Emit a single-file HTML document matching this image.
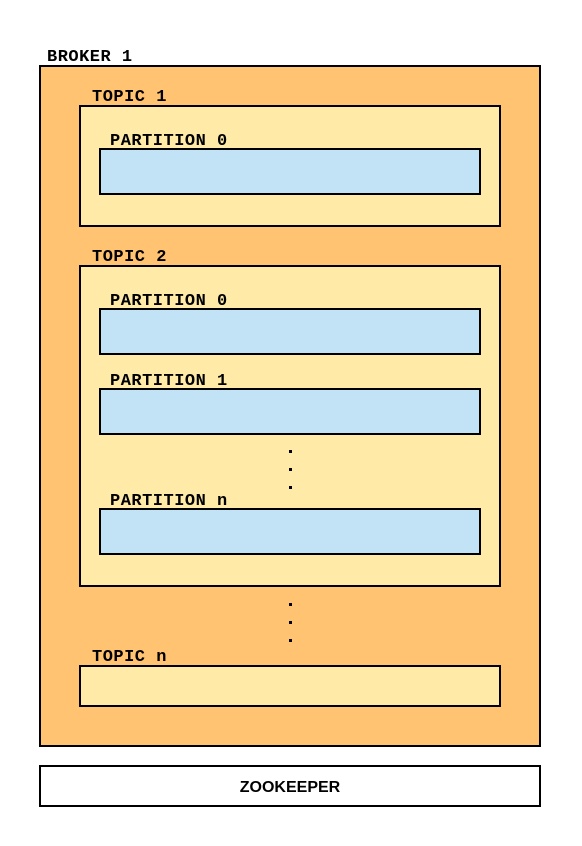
<!DOCTYPE html>
<html><head><meta charset="utf-8"><style>
html,body{margin:0;padding:0;background:#fff;}
svg{display:block}
.m{font-family:"Liberation Mono",monospace;font-weight:bold;font-size:17px;letter-spacing:0.5px;fill:#000}
</style></head><body>
<svg width="582" height="846" viewBox="0 0 582 846" xmlns="http://www.w3.org/2000/svg">
<g stroke="#000" stroke-width="2">
<rect x="40" y="66" width="500" height="680" fill="#FFC371"/>
<rect x="80" y="106" width="420" height="120" fill="#FFEAA7"/>
<rect x="100" y="149" width="380" height="45" fill="#C2E3F5"/>
<rect x="80" y="266" width="420" height="320" fill="#FFEAA7"/>
<rect x="100" y="309" width="380" height="45" fill="#C2E3F5"/>
<rect x="100" y="389" width="380" height="45" fill="#C2E3F5"/>
<rect x="100" y="509" width="380" height="45" fill="#C2E3F5"/>
<rect x="80" y="666" width="420" height="40" fill="#FFEAA7"/>
<rect x="40" y="766" width="500" height="40" fill="#fff"/>
</g>
<text class="m" x="47" y="61">BROKER 1</text>
<text class="m" x="92" y="101">TOPIC 1</text>
<text class="m" x="110" y="145">PARTITION 0</text>
<text class="m" x="92" y="261">TOPIC 2</text>
<text class="m" x="110" y="305">PARTITION 0</text>
<text class="m" x="110" y="385">PARTITION 1</text>
<text class="m" x="110" y="505">PARTITION n</text>
<text class="m" x="92" y="661">TOPIC n</text>
<text x="290" y="792" text-anchor="middle" font-family="Liberation Sans,sans-serif" font-weight="bold" font-size="16">ZOOKEEPER</text>
<g fill="#000">
<rect x="289" y="450" width="3" height="3"/>
<rect x="289" y="468" width="3" height="3"/>
<rect x="289" y="486" width="3" height="3"/>
<rect x="289" y="603" width="3" height="3"/>
<rect x="289" y="621" width="3" height="3"/>
<rect x="289" y="639" width="3" height="3"/>
</g>
</svg>
</body></html>
